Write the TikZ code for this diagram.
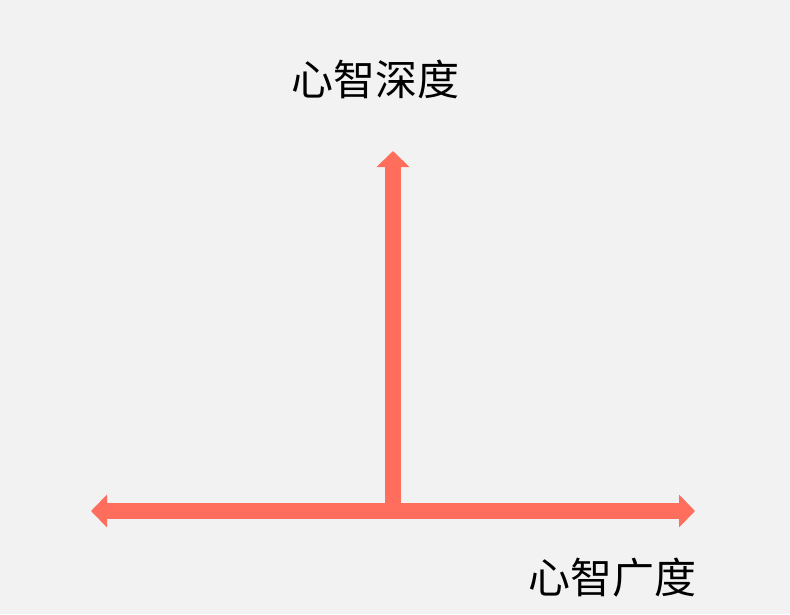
\documentclass[tikz,border=0pt]{standalone}
\usepackage{fontspec}
\setmainfont{Noto Sans CJK SC}
\usepackage{xcolor}
\usepackage{tikz}
\usetikzlibrary{positioning, arrows.meta}
\definecolor{axiscoral}{HTML}{FF6D5C}
\definecolor{bggray}{HTML}{F2F2F2}

\begin{document}
\begin{tikzpicture}[x=1pt, y=-1pt,
		axis/.style={draw=axiscoral, line width=16pt},
		tip/.style={Triangle[length=16pt, width=32pt, fill=axiscoral]},
		lbl/.style={inner sep=0pt, font=\fontsize{42}{42}\selectfont}]
				\fill [bggray] (0,0) rectangle (790,614);
				\useasboundingbox (0,0) rectangle (790,614);
				
				\coordinate (O) at (393,511);
				\coordinate (T) at (393,151);
				\coordinate (L) at (91,511);
				\coordinate (R) at (695,511);
				
				\draw[axis, -{Triangle[length=16pt, width=32pt]}] (O)--(T);
				\draw[axis, {Triangle[length=16pt, width=32pt]}-{Triangle[length=16pt, width=32pt]}] (L)--(R);
				
				\node[lbl] (depth) at (375,79) {心智深度};
				\node[lbl] (breadth) at (612,578) {心智广度};
			\end{tikzpicture}
\end{document}
